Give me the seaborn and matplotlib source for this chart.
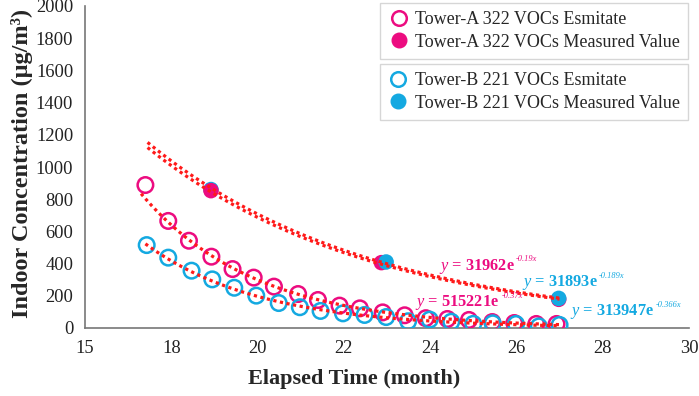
import numpy as np
import pandas as pd
import seaborn as sns
import matplotlib.pyplot as plt
from matplotlib.lines import Line2D

# Werte
est_a_x = [17.4, 17.93, 18.41, 18.93, 19.42, 19.91, 20.38, 20.94, 21.4, 21.9,
           22.37, 22.9, 23.41, 23.9, 24.4, 24.9, 25.44, 25.95, 26.46, 26.93]
est_a_y = [888, 665, 542, 443, 366, 313, 257, 211, 174, 139,
           122, 97, 79, 61, 56, 50, 37, 31, 25, 25]
est_b_x = [17.43, 17.93, 18.47, 18.95, 19.46, 19.97, 20.49, 20.98, 21.46, 21.98,
           22.48, 22.98, 23.49, 23.99, 24.49, 25.0, 25.45, 25.99, 26.52, 27.0]
est_b_y = [515, 437, 356, 302, 250, 201, 155, 129, 106, 91,
           81, 68, 42, 52, 39, 26, 29, 25, 10, 19]
meas_a_x = [18.92, 22.87, 26.98]
meas_a_y = [835, 406, 178]
meas_b_x = [18.92, 22.98, 26.98]
meas_b_y = [860, 410, 184]

x_ticks = [16, 18, 20, 22, 24, 26, 28, 30]
x_labels = ['15', '18', '20', '22', '24', '26', '28', '30']

# Gleichungen (Text, Exponent, Position)
eq_main = ['31962e', '31893e', '515221e', '313947e']
eq_exp = ['-0.19x', '-0.189x', '-0.37x', '-0.366x']
eq_x = [24.2, 26.12, 23.66, 27.25]
eq_y = [362, 258, 134, 78]

pink = '#EC0C80'
cyan = '#14A9E1'
red = '#FF1A1A'

sns.set_style('white')
plt.rcParams['font.family'] = ['Liberation Serif', 'DejaVu Serif']
plt.rcParams['mathtext.fontset'] = 'custom'
plt.rcParams['mathtext.rm'] = 'Liberation Serif'
plt.rcParams['mathtext.it'] = 'Liberation Serif:italic'
plt.rcParams['mathtext.bf'] = 'Liberation Serif:bold'

fig = plt.figure(figsize=(6.99, 3.96), dpi=100)
ax = fig.add_axes([85 / 699, 1 - 328 / 396, 604 / 699, 322 / 396])


# exponentielle Trendlinie wie in Excel (Fit auf log-Werte)
def trend(xs, ys, x0, x1):
    k, b = np.polyfit(xs, np.log(ys), 1)
    xx = np.linspace(x0, x1, 80)
    return pd.DataFrame({'x': xx, 'y': np.exp(b + k * xx)})


sns.scatterplot(x=est_a_x, y=est_a_y, ax=ax, s=125, facecolor='none',
                edgecolor=pink, linewidth=1.8, zorder=3)
sns.scatterplot(x=meas_b_x[:1], y=meas_b_y[:1], ax=ax, s=125, color=cyan,
                edgecolor='none', zorder=2)
sns.scatterplot(x=meas_a_x[:1], y=[853], ax=ax, s=125, color=pink,
                edgecolor='none', zorder=3)
sns.scatterplot(x=meas_a_x[1:], y=meas_a_y[1:], ax=ax, s=125, color=pink,
                edgecolor='none', zorder=3)
sns.scatterplot(x=meas_b_x[1:], y=meas_b_y[1:], ax=ax, s=125, color=cyan,
                edgecolor='none', zorder=4)
sns.scatterplot(x=est_b_x, y=est_b_y, ax=ax, s=125, facecolor='none',
                edgecolor=cyan, linewidth=1.8, zorder=3)

for xs, ys, x0 in [(meas_a_x, meas_a_y, 17.45), (meas_b_x, meas_b_y, 17.45),
                   (est_a_x, est_a_y, 17.3), (est_b_x, est_b_y, 17.4)]:
    t = trend(xs, ys, x0, 27.0)
    sns.lineplot(data=t, x='x', y='y', ax=ax, color=red, linewidth=2.3,
                 linestyle=(0, (1, 1.1)), zorder=5)

ax.set_xlim(16, 30)
ax.set_ylim(0, 2000)
ax.set_xticks(x_ticks)
ax.set_xticklabels(x_labels)
ax.set_yticks(range(0, 2001, 200))
ax.tick_params(axis='both', labelsize=13.3, labelcolor='#222222', length=5,
               width=1, direction='out', color='#777777')
for side in ['top', 'right']:
    ax.spines[side].set_visible(False)
for side in ['left', 'bottom']:
    ax.spines[side].set_color('#777777')
    ax.spines[side].set_linewidth(1.2)

ax.set_xlabel('Elapsed Time (month)', fontsize=16, fontweight='bold')
ax.set_ylabel('Indoor Concentration (μg/m³)', fontsize=17.5, fontweight='bold')
ax.xaxis.set_label_coords(0.445, -0.128)
ax.yaxis.set_label_coords(-0.086, 0.512)

# Gleichungen mit kleinem kursivem Exponenten
colors = [pink, cyan, pink, cyan]
for m, e, x, y, c in zip(eq_main, eq_exp, eq_x, eq_y, colors):
    t = ax.text(x, y, r'$\it{y}$ = ' + m, color=c, fontsize=11.8,
                fontweight='bold', va='baseline', zorder=6)
    ax.annotate(e, xy=(1.02, 0.66), xycoords=t, fontsize=6, style='italic',
                color=c, va='bottom', ha='left', zorder=6)

# zwei getrennte Legendenkästen
h_a = [Line2D([], [], marker='o', ls='', ms=10.5, mfc='none', mec=pink, mew=1.8),
       Line2D([], [], marker='o', ls='', ms=10.5, mfc=pink, mec=pink)]
h_b = [Line2D([], [], marker='o', ls='', ms=10.5, mfc='none', mec=cyan, mew=1.8),
       Line2D([], [], marker='o', ls='', ms=10.5, mfc=cyan, mec=cyan)]
leg_kw = dict(loc='upper right', prop={'size': 13}, frameon=True, fancybox=False,
              edgecolor='#cccccc', handletextpad=0.35, labelspacing=0.3,
              borderpad=0.45, handlelength=1.1, borderaxespad=0)
leg1 = ax.legend(h_a, ['Tower-A 322 VOCs Esmitate', 'Tower-A 322 VOCs Measured Value'],
                 bbox_to_anchor=(0.998, 1.009), **leg_kw)
ax.add_artist(leg1)
ax.legend(h_b, ['Tower-B 221 VOCs Esmitate', 'Tower-B 221 VOCs Measured Value'],
          bbox_to_anchor=(0.998, 0.820), **leg_kw)

plt.savefig('out.png', dpi=100)
